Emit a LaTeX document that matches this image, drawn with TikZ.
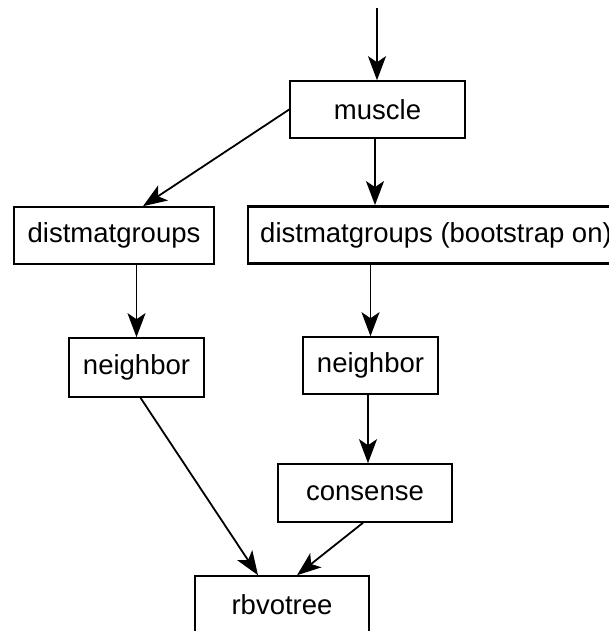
\documentclass[tikz,border=0pt]{standalone}
\usepackage{fontspec}
\setmainfont{Liberation Sans}
\usetikzlibrary{arrows.meta}

\begin{document}
\begin{tikzpicture}[x=1pt,y=-1pt]
                \useasboundingbox (0,0) rectangle (609,631);
                \begin{scope}[every node/.style={draw, line width=1.6pt, rectangle, minimum height=57pt, inner sep=0, font=\fontsize{27.5}{30}\selectfont}]
                        \node[minimum width=175pt] (muscle) at (377.5,109.5) {muscle};
                        \node[minimum width=200pt] (dmg) at (114,235.5) {distmatgroups};
                        \node[minimum width=376pt, line width=2.8pt] (dmgboot) at (436,235) {distmatgroups (bootstrap on)};
                        \node[minimum width=135pt, minimum height=59pt] (nbl) at (136.5,367.5) {neighbor};
                        \node[minimum width=135pt] (nbr) at (370.5,365.5) {neighbor};
                        \node[minimum width=174pt, minimum height=58pt] (cons) at (365,493) {consense};
                        \node[minimum width=174pt] (rbv) at (282,604.5) {rbvotree};
                \end{scope}
                \coordinate (in) at (377,8);
                \begin{scope}[every path/.style={line width=1.8pt, -{Stealth[length=24pt, width=18pt, inset=6pt]}}]
                        \path (in) edge (in |- muscle.north);
                        \path (muscle.west) edge ([xshift=29pt]dmg.north);
                        \path ([xshift=-2.5pt]muscle.south) edge ([xshift=-2.5pt]muscle.south |- dmgboot.north);
                        \path (nbl.north |- dmg.south) edge (nbl.north);
                        \path (nbr.north |- dmgboot.south) edge (nbr.north);
                        \path ([xshift=-2.5pt]nbr.south) edge ([xshift=-2.5pt]nbr.south |- cons.north);
                        \path ([xshift=4pt]nbl.south) edge ([xshift=-24pt]rbv.north);
                        \path ([xshift=-2pt]cons.south) edge ([xshift=15pt]rbv.north);
                \end{scope}
        \end{tikzpicture}
\end{document}
